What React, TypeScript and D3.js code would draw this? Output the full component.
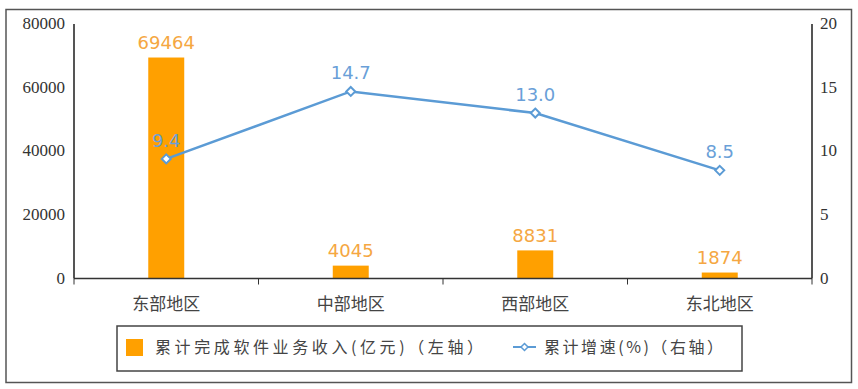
import React from "react";
import * as d3 from "d3";

const categories = ["东部地区", "中部地区", "西部地区", "东北地区"];
const revenue = [69464, 4045, 8831, 1874];
const growth = [9.4, 14.7, 13.0, 8.5];
const leftTicks = [0, 20000, 40000, 60000, 80000];
const rightTicks = [0, 5, 10, 15, 20];
const legendBar = "累计完成软件业务收入(亿元)（左轴）";
const legendLine = "累计增速(%)（右轴）";

const W = 858;
const H = 389;
const X0 = 74;
const X1 = 812;
const YT = 24;
const YB = 278.5;

const CJK = "'Noto Sans CJK SC', sans-serif";
const SERIF = "'Liberation Serif', 'Times New Roman', serif";
const SANS = "'DejaVu Sans', Verdana, sans-serif";

export default function App() {
  const x = d3
    .scaleBand<string>()
    .domain(categories)
    .range([X0, X1])
    .paddingInner(0.805)
    .paddingOuter(0.4025);
  const yL = d3.scaleLinear().domain([0, 80000]).range([YB, YT]);
  const yR = d3.scaleLinear().domain([0, 20]).range([YB, YT]);
  const cx = (c: string) => (x(c) as number) + x.bandwidth() / 2;
  const step = x.step();
  const boundaries = d3.range(categories.length + 1).map((i) => X0 + i * step);

  const line = d3
    .line<number>()
    .x((_, i) => cx(categories[i]))
    .y((d) => yR(d));

  const diamond = (px: number, py: number, r: number) =>
    `M${px},${py - r}L${px + r},${py}L${px},${py + r}L${px - r},${py}Z`;

  return (
    <svg
      width={W}
      height={H}
      style={{ position: "absolute", left: 0, top: 0, background: "#fff" }}
    >
      <rect x={6} y={9.5} width={845.5} height={373} fill="#fff" stroke="#555" strokeWidth={1.5} />

      {/* bars */}
      {categories.map((c, i) => (
        <rect
          key={c}
          x={x(c)}
          y={yL(revenue[i])}
          width={x.bandwidth()}
          height={YB - yL(revenue[i])}
          fill="#FFA000"
        />
      ))}

      {/* axes */}
      <line x1={X0} x2={X0} y1={YT} y2={YB} stroke="#555" strokeWidth={2} />
      <line x1={X1} x2={X1} y1={YT} y2={YB} stroke="#555" strokeWidth={2} />
      <line x1={X0} x2={X1} y1={YB} y2={YB} stroke="#333" strokeWidth={1.5} />
      {boundaries.map((bx, i) => (
        <line key={i} x1={bx} x2={bx} y1={YB} y2={YB + 6} stroke="#333" strokeWidth={1} />
      ))}

      {leftTicks.map((t) => (
        <text
          key={t}
          x={65}
          y={yL(t) + 5}
          textAnchor="end"
          fontFamily={SERIF}
          fontSize={17}
          fill="#333"
        >
          {t}
        </text>
      ))}
      {rightTicks.map((t) => (
        <text key={t} x={820} y={yR(t) + 5} fontFamily={SERIF} fontSize={17} fill="#333">
          {t}
        </text>
      ))}

      {categories.map((c) => (
        <text
          key={c}
          x={cx(c)}
          y={310}
          textAnchor="middle"
          fontFamily={CJK}
          fontSize={17}
          fill="#444"
        >
          {c}
        </text>
      ))}

      {/* bar labels */}
      {categories.map((c, i) => (
        <text
          key={c}
          x={cx(c)}
          y={yL(revenue[i]) - 8.5}
          textAnchor="middle"
          fontFamily={SANS}
          fontSize={18}
          fill="#F5A742"
        >
          {revenue[i]}
        </text>
      ))}

      {/* line */}
      <path d={line(growth) || ""} fill="none" stroke="#5B9BD5" strokeWidth={2.5} />
      {growth.map((g, i) => (
        <path
          key={i}
          d={diamond(cx(categories[i]), yR(g), 4.5)}
          fill="#fff"
          stroke="#5B9BD5"
          strokeWidth={2}
        />
      ))}
      {growth.map((g, i) => (
        <text
          key={i}
          x={cx(categories[i])}
          y={yR(g) - 12}
          textAnchor="middle"
          fontFamily={SANS}
          fontSize={18}
          fill="#6A9FD8"
        >
          {g.toFixed(1)}
        </text>
      ))}

      {/* legend */}
      <rect x={117} y={326} width={625} height={45} fill="#fff" stroke="#444" strokeWidth={1.5} />
      <rect x={126} y={339} width={17} height={17} fill="#FFA000" />
      <text
        x={155}
        y={353}
        fontFamily={CJK}
        fontSize={16}
        fill="#444"
        textLength={328}
        lengthAdjust="spacing"
      >
        {legendBar}
      </text>
      <line x1={513} x2={536} y1={347} y2={347} stroke="#5B9BD5" strokeWidth={2} />
      <path d={diamond(524.5, 347, 3.5)} fill="#fff" stroke="#5B9BD5" strokeWidth={1.5} />
      <text
        x={544}
        y={353}
        fontFamily={CJK}
        fontSize={16}
        fill="#444"
        textLength={179}
        lengthAdjust="spacing"
      >
        {legendLine}
      </text>
    </svg>
  );
}
